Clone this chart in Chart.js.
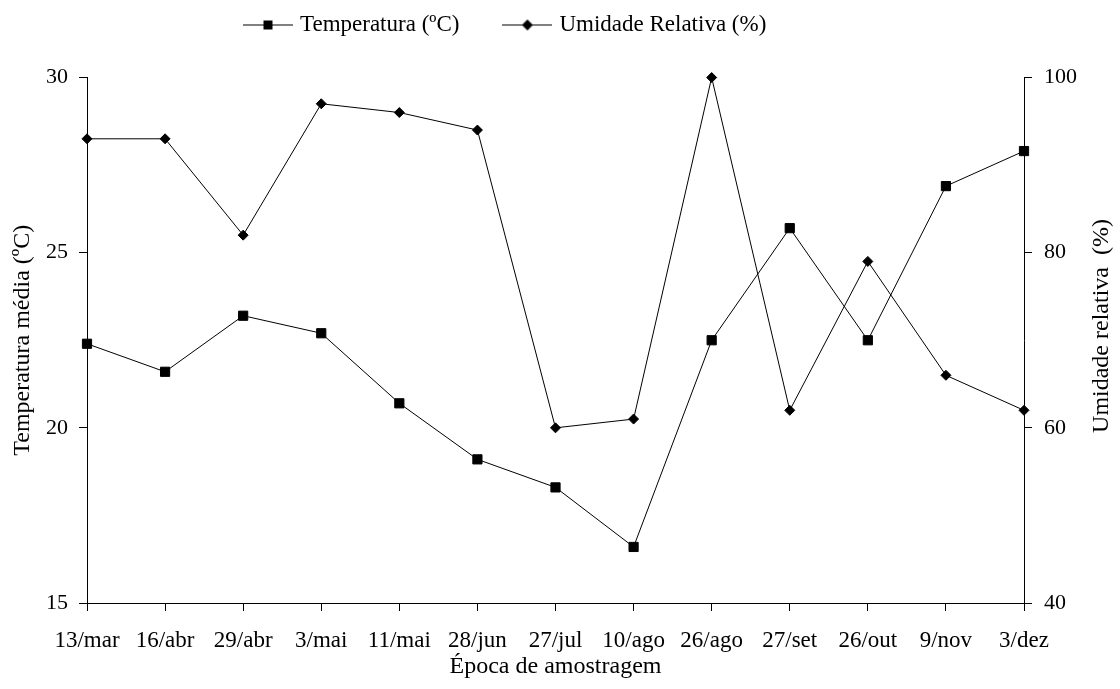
<!DOCTYPE html>
<html>
<head>
<meta charset="utf-8">
<script src="https://cdn.jsdelivr.net/npm/chart.js@4/dist/chart.umd.min.js"></script>
<style>
  html, body { margin: 0; padding: 0; background: #ffffff; }
  #wrap { width: 1120px; height: 689px; position: relative; }
</style>
</head>
<body>
<div id="wrap"><canvas id="c" width="1120" height="689"></canvas></div>
<script>
// ---- data ----
const categories = ['13/mar', '16/abr', '29/abr', '3/mai', '11/mai', '28/jun', '27/jul', '10/ago', '26/ago', '27/set', '26/out', '9/nov', '3/dez'];
const temperatura = [22.4, 21.6, 23.2, 22.7, 20.7, 19.1, 18.3, 16.6, 22.5, 25.7, 22.5, 26.9, 27.9];
const umidade = [93, 93, 82, 97, 96, 94, 60, 61, 100, 62, 79, 66, 62];
const seriesNames = ['Temperatura (ºC)', 'Umidade Relativa (%)'];
const leftTitle = 'Temperatura média (ºC)';
const rightTitle = 'Umidade relativa  (%)';
const xTitle = 'Época de amostragem';

const FONT = '"Liberation Serif", "Times New Roman", serif';

function legendIcon(style) {
  const cv = document.createElement('canvas');
  cv.width = 50; cv.height = 14;
  const g = cv.getContext('2d');
  g.strokeStyle = '#000'; g.lineWidth = 1;
  g.beginPath(); g.moveTo(0, 7.5); g.lineTo(50, 7.5); g.stroke();
  g.fillStyle = '#000';
  if (style === 'rect') {
    g.fillRect(20.5, 3, 9, 9);
  } else {
    g.beginPath(); g.moveTo(25, 2); g.lineTo(30.5, 7.5); g.lineTo(25, 13); g.lineTo(19.5, 7.5); g.closePath(); g.fill();
  }
  return cv;
}
const icons = [legendIcon('rect'), legendIcon('rectRot')];

const layoutFix = {
  id: 'layoutFix',
  afterLayout(chart) {
    const lg = chart.legend;
    if (!lg) return;
    const pad = lg.options.labels.padding;
    const fs = lg.options.labels.font.size;
    const targetCenter = 24.5;
    const newTop = targetCenter - pad - fs / 2;
    const h = lg.bottom - lg.top;
    lg.top = newTop; lg.bottom = newTop + h;
    lg.left = 247.5 - pad;
  },
  afterDraw(chart) {
    const ctx = chart.ctx;
    ctx.save();
    ctx.font = '24px ' + FONT;
    ctx.fillStyle = '#000';
    ctx.textAlign = 'center';
    ctx.textBaseline = 'middle';
    ctx.translate(1102, 326);
    ctx.rotate(-Math.PI / 2);
    ctx.fillText(rightTitle, 0, 0);
    ctx.restore();
  }
};

new Chart(document.getElementById('c'), {
  type: 'line',
  data: {
    labels: categories,
    datasets: [
      {
        label: seriesNames[0],
        data: temperatura,
        yAxisID: 'y',
        borderColor: '#000',
        backgroundColor: '#000',
        borderWidth: 1,
        pointStyle: 'rect',
        pointRadius: 6.5,
        pointBorderWidth: 1,
        pointBackgroundColor: '#000',
        pointBorderColor: '#000',
        tension: 0,
        clip: false
      },
      {
        label: seriesNames[1],
        data: umidade,
        yAxisID: 'y1',
        borderColor: '#000',
        backgroundColor: '#000',
        borderWidth: 1,
        pointStyle: 'rectRot',
        pointRadius: 5,
        pointBorderWidth: 1,
        pointBackgroundColor: '#000',
        pointBorderColor: '#000',
        tension: 0,
        clip: false
      }
    ]
  },
  options: {
    responsive: false,
    animation: false,
    devicePixelRatio: 1,
    layout: { padding: { top: -3, left: 0, right: 0, bottom: 0 } },
    plugins: {
      tooltip: { enabled: false },
      legend: {
        display: true,
        position: 'top',
        align: 'start',
        labels: {
          color: '#000',
          font: { family: FONT, size: 23 },
          padding: 47.5,
          usePointStyle: true,
          pointStyleWidth: 41,
          generateLabels(chart) {
            return chart.data.datasets.map((ds, i) => ({
              text: ds.label,
              pointStyle: icons[i],
              fillStyle: '#000',
              strokeStyle: '#000',
              lineWidth: 0,
              hidden: false,
              datasetIndex: i,
              fontColor: '#000'
            }));
          }
        }
      }
    },
    scales: {
      x: {
        type: 'category',
        offset: false,
        afterFit(s) { s.height = 86; },
        border: { display: true, color: '#000', width: 1 },
        grid: { display: true, drawOnChartArea: false, drawTicks: true, tickLength: 8, color: '#000', offset: false },
        ticks: { color: '#000', font: { family: FONT, size: 23 }, padding: 16, maxRotation: 0, autoSkip: false },
        title: { display: true, text: xTitle, color: '#000', font: { family: FONT, size: 24 }, padding: { top: 0, bottom: 8 } }
      },
      y: {
        position: 'left',
        min: 15, max: 30,
        afterFit(s) { s.width = 87; },
        border: { display: true, color: '#000', width: 1 },
        grid: { display: true, drawOnChartArea: false, drawTicks: true, tickLength: 8, color: '#000' },
        ticks: { stepSize: 5, color: '#000', font: { family: FONT, size: 22 }, padding: 11 },
        title: { display: true, text: leftTitle, color: '#000', font: { family: FONT, size: 24 }, padding: { top: 8, bottom: 0 } }
      },
      y1: {
        position: 'right',
        min: 40, max: 100,
        afterFit(s) { s.width = 96; },
        border: { display: true, color: '#000', width: 1 },
        grid: { display: true, drawOnChartArea: false, drawTicks: true, tickLength: 8, color: '#000' },
        ticks: { stepSize: 20, color: '#000', font: { family: FONT, size: 22 }, padding: 12 },
        title: { display: false }
      }
    }
  },
  plugins: [layoutFix]
});
</script>
</body>
</html>
